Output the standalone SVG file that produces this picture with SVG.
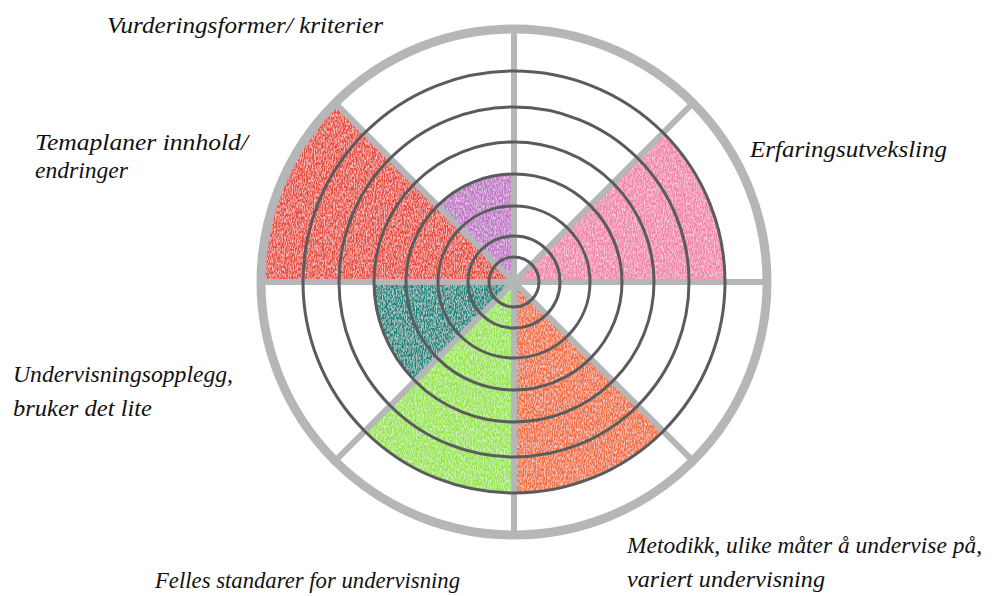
<svg xmlns="http://www.w3.org/2000/svg" width="995" height="596" viewBox="0 0 995 596">
  <style>
    .lbl { font-family: "Liberation Serif", "Times New Roman", serif; font-style: italic; font-size: 23px; fill: #111111; }
    .spoke { stroke: #b4b6b8; stroke-width: 6; stroke-linecap: butt; }
    .ring { fill: none; stroke: #b4b6b8; stroke-width: 9; }
    .level { fill: none; stroke: #5a5b5d; stroke-width: 3; }
  </style>
  <defs>
    <!-- soft crayon grain laid over the coloured segments -->
    <filter id="crayon" x="0" y="0" width="1" height="1">
      <feTurbulence type="fractalNoise" baseFrequency="0.9 0.35" numOctaves="2" seed="4" result="n"/>
      <feColorMatrix in="n" type="matrix" values="0 0 0 0 1  0 0 0 0 1  0 0 0 0 1  0 0 0 1.4 -0.55" result="w"/>
      <feComposite in="w" in2="SourceGraphic" operator="in" result="ws"/>
      <feMerge>
        <feMergeNode in="SourceGraphic"/>
        <feMergeNode in="ws"/>
      </feMerge>
    </filter>
  </defs>

  <rect width="995" height="596" fill="#ffffff"/>

  <!-- coloured segments, centre (514,282) -->
  <g id="segments">
    <g id="seg-temaplaner"><path d="M514,282 L264,282 A250,250 0 0 1 337.2,105.2 Z" fill="#e94c3c" filter="url(#crayon)"/></g>
    <g id="seg-vurdering"><path d="M514,282 L437.6,205.6 A108,108 0 0 1 514,174 Z" fill="#c075c7" filter="url(#crayon)"/></g>
    <g id="seg-erfaring"><path d="M514,282 L663.2,132.8 A211,211 0 0 1 725,282 Z" fill="#f284aa" filter="url(#crayon)"/></g>
    <g id="seg-undervisningsopplegg"><path d="M514,282 L415,381 A140,140 0 0 1 374,282 Z" fill="#14877f" filter="url(#crayon)"/></g>
    <g id="seg-felles"><path d="M514,282 L514,493 A211,211 0 0 1 364.8,431.2 Z" fill="#98e648" filter="url(#crayon)"/></g>
    <g id="seg-metodikk"><path d="M514,282 L663.2,431.2 A211,211 0 0 1 514,493 Z" fill="#f26e3d" filter="url(#crayon)"/></g>
  </g>

  <!-- spokes and outer rim -->
  <g id="connectors">
    <line class="spoke" x1="514" y1="282" x2="514" y2="29"/>
    <line class="spoke" x1="514" y1="282" x2="514" y2="535"/>
    <line class="spoke" x1="514" y1="282" x2="261" y2="282"/>
    <line class="spoke" x1="514" y1="282" x2="767" y2="282"/>
    <line class="spoke" x1="514" y1="282" x2="335.1" y2="103.1"/>
    <line class="spoke" x1="514" y1="282" x2="692.9" y2="103.1"/>
    <line class="spoke" x1="514" y1="282" x2="335.1" y2="460.9"/>
    <line class="spoke" x1="514" y1="282" x2="692.9" y2="460.9"/>
  </g>
  <circle id="rim" class="ring" cx="514" cy="282" r="253"/>

  <!-- concentric scale rings -->
  <g id="levels">
    <circle class="level" cx="514" cy="282" r="25"/>
    <circle class="level" cx="514" cy="282" r="46"/>
    <circle class="level" cx="514" cy="282" r="76"/>
    <circle class="level" cx="514" cy="282" r="108"/>
    <circle class="level" cx="514" cy="282" r="140"/>
    <circle class="level" cx="514" cy="282" r="175"/>
    <circle class="level" cx="514" cy="282" r="211"/>
  </g>

  <!-- labels -->
  <g id="labels">
    <text class="lbl" x="107" y="33" textLength="276" lengthAdjust="spacingAndGlyphs">Vurderingsformer/ kriterier</text>
    <text class="lbl" x="35" y="150" textLength="213" lengthAdjust="spacingAndGlyphs">Temaplaner innhold/</text>
    <text class="lbl" x="35" y="178" textLength="93" lengthAdjust="spacingAndGlyphs">endringer</text>
    <text class="lbl" x="750" y="157" textLength="197" lengthAdjust="spacingAndGlyphs">Erfaringsutveksling</text>
    <text class="lbl" x="13" y="382" textLength="220" lengthAdjust="spacingAndGlyphs">Undervisningsopplegg,</text>
    <text class="lbl" x="13" y="416" textLength="139" lengthAdjust="spacingAndGlyphs">bruker det lite</text>
    <text class="lbl" x="627" y="553" textLength="355" lengthAdjust="spacingAndGlyphs">Metodikk, ulike måter å undervise på,</text>
    <text class="lbl" x="627" y="587" textLength="198" lengthAdjust="spacingAndGlyphs">variert undervisning</text>
    <text class="lbl" x="155" y="588" textLength="305" lengthAdjust="spacingAndGlyphs">Felles standarer for undervisning</text>
  </g>
</svg>
